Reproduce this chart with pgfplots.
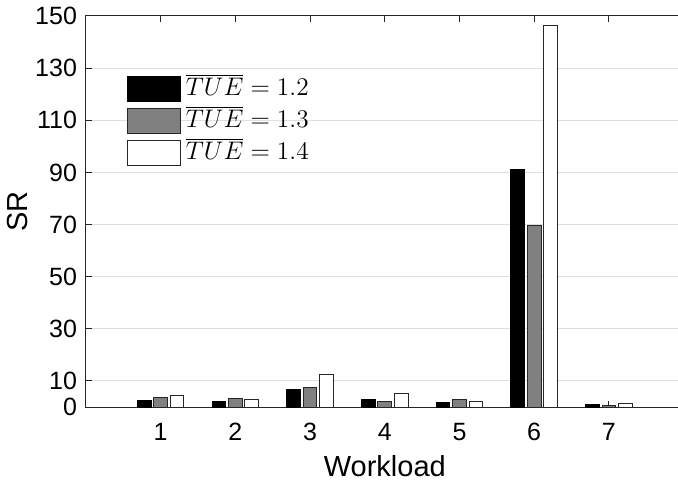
\RequirePackage{fix-cm}
\documentclass[border=0pt]{standalone}
\usepackage{pgfplots}
\pgfplotsset{compat=1.18}
\usepackage{fontspec}
\setmainfont{Liberation Sans}
\usetikzlibrary{calc}

\definecolor{gridgray}{gray}{0.87}
\definecolor{axgray}{gray}{0.15}

\pgfplotsset{
  legbox/.style={legend image code/.code={%
    \draw[##1,line width=0.5pt] (0pt,-6.775pt) rectangle (26.5pt,5.725pt);}},
}

\begin{document}
\begin{tikzpicture}
\begin{axis}[
  name=ax,
  scale only axis,
  width=298.8pt, height=195.5pt,
  xmin=0, xmax=8, ymin=0, ymax=150,
  ybar, bar width=0.183,
  xtick={1,2,3,4,5,6,7},
  ytick={0,10,30,50,70,90,110,130,150},
  tick align=inside,
  major tick length=3pt,
  xtick pos=both, ytick pos=both,
  ymajorgrids=true,
  grid style={gridgray, line width=0.5pt},
  axis line style={axgray, line width=0.5pt},
  tick style={axgray, line width=0.5pt},
  /pgf/number format/assume math mode=true,
  ticklabel style={font=\fontsize{12.5}{15}\selectfont},
  xticklabel style={yshift=-4.5pt},
  yticklabel style={xshift=-1pt},
  xlabel={Workload},
  ylabel={SR},
  label style={font=\fontsize{14.5}{17}\selectfont},
  xlabel style={yshift=-0.5pt},
  ylabel style={at={(axis description cs:-0.1146,0.5)}, anchor=center},
  legend style={at={(axis description cs:0.0686,0.856)}, anchor=north west,
    draw=none, fill=none, inner sep=0pt, outer sep=0pt,
    font=\fontsize{12.7}{15}\selectfont,
    nodes={inner xsep=2.5pt, inner ysep=1pt, text height=10.85pt, text depth=3pt},
    row sep=0pt},
  legend cell align=left,
]
\addplot[legbox, fill=black, draw=black, line width=0.5pt, bar shift=-0.22] coordinates {
  (1,2.5) (2,2.0) (3,6.9) (4,2.7) (5,1.7) (6,91.0) (7,1.0)};
\addplot[legbox, fill=gray, draw=black!85, line width=0.5pt, bar shift=0] coordinates {
  (1,3.6) (2,3.1) (3,7.3) (4,2.3) (5,2.9) (6,69.8) (7,0.5)};
\addplot[legbox, fill=white, draw=black!85, line width=0.5pt, bar shift=0.22] coordinates {
  (1,4.3) (2,2.7) (3,12.4) (4,5.2) (5,2.3) (6,146.4) (7,1.2)};
\legend{$\overline{TUE}=1.2$, $\overline{TUE}=1.3$, $\overline{TUE}=1.4$}
\end{axis}
\pgfresetboundingbox
\path[use as bounding box] ($(ax.south west)+(-43pt,-39.5pt)$) rectangle ($(ax.south west)+(296pt,203.5pt)$);
\end{tikzpicture}
\end{document}
